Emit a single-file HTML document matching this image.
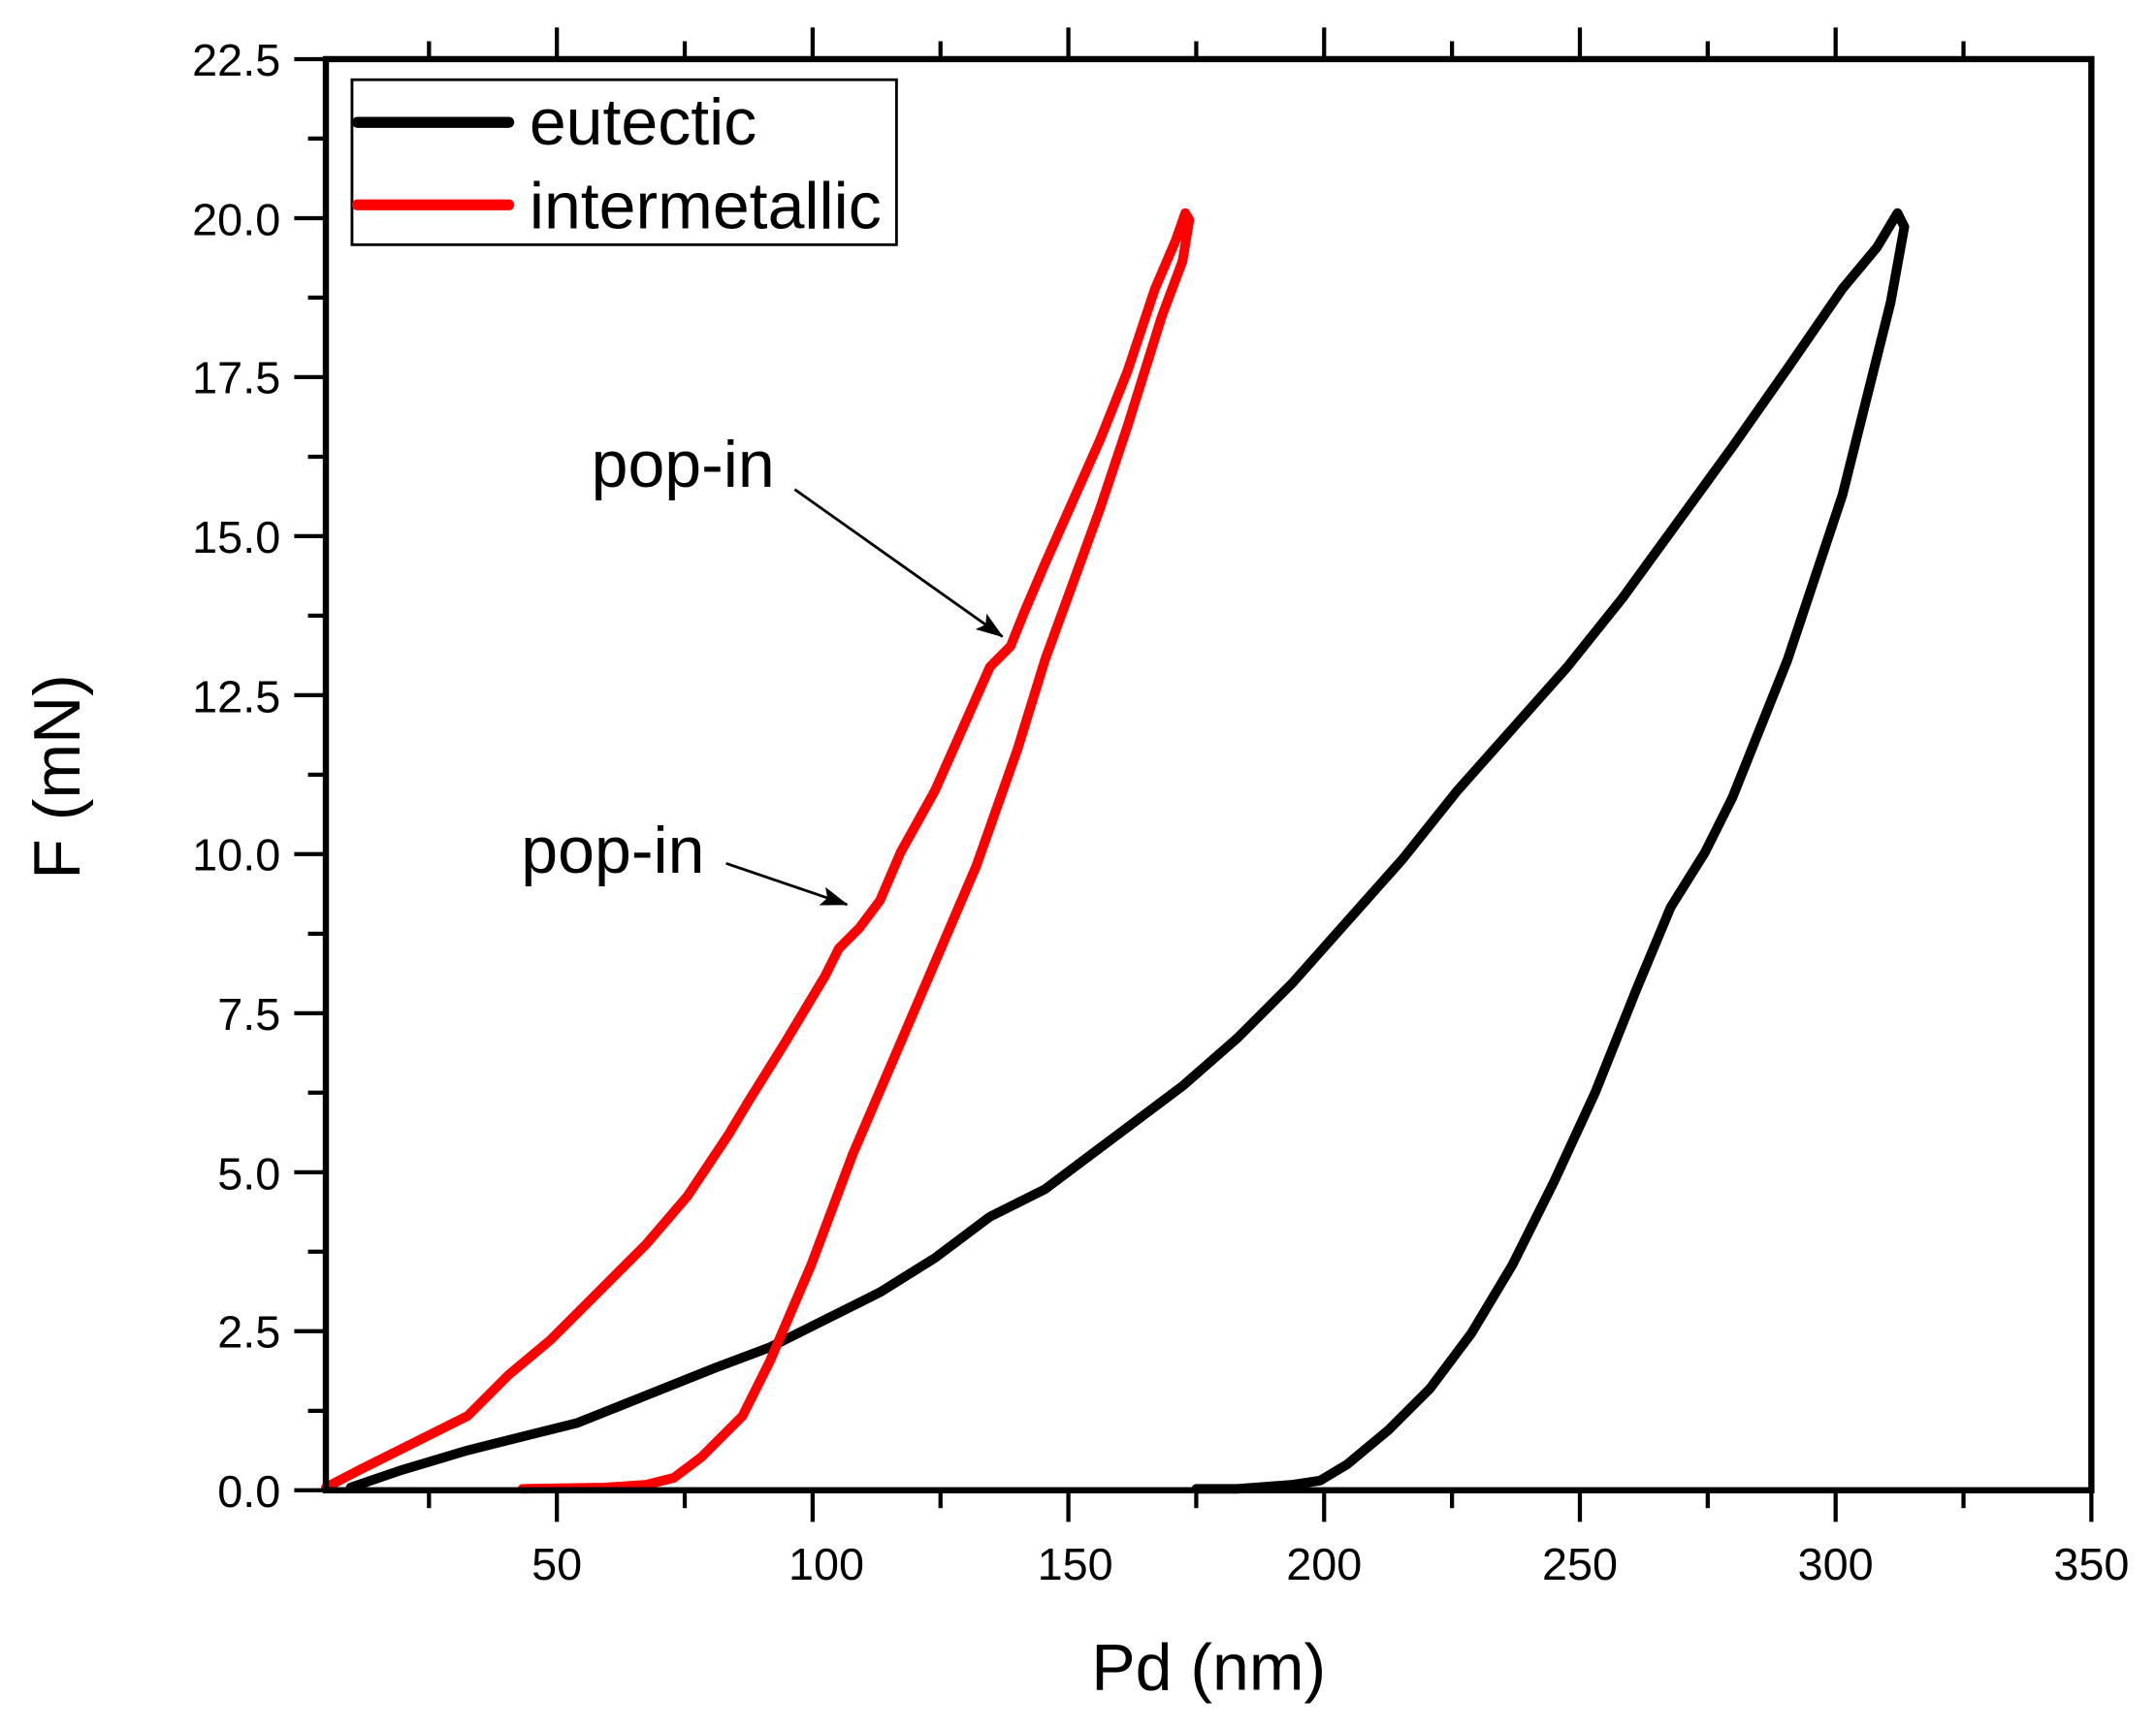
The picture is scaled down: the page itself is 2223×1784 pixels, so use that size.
<!DOCTYPE html>
<html><head><meta charset="utf-8"><style>
html,body{margin:0;padding:0;background:#fff;}
svg{display:block;}
text{font-family:"Liberation Sans",Arial,sans-serif;fill:#000;}
</style></head><body>
<svg width="2223" height="1784" viewBox="0 0 1568 1258.4" preserveAspectRatio="none" xmlns="http://www.w3.org/2000/svg">
<defs>
<marker id="ah" markerWidth="20" markerHeight="14" refX="19" refY="7" orient="auto" markerUnits="userSpaceOnUse" viewBox="0 0 20 14">
<path d="M0,0 L20,7 L0,14 L4,7 z" fill="#000"/>
</marker>
</defs>
<g fill="none" stroke-width="7" stroke-linejoin="round" stroke-linecap="round">
<polyline stroke="#000" points="255,1082 290,1070 340,1055 380,1045 420,1035 470,1015 520,995 560,980 600,960 640,940 680,915 720,885 760,865 800,835 860,790 900,755 940,715 980,670 1020,625 1060,575 1100,530 1140,485 1180,435 1220,380 1260,325 1300,268 1340,210 1365,180 1380,155 1385,165 1375,220 1360,280 1340,360 1320,420 1300,480 1280,530 1260,580 1240,620 1215,660 1190,720 1160,795 1130,860 1100,920 1070,970 1040,1010 1010,1040 980,1065 960,1077 940,1080 900,1083 870,1083"/>
<polyline stroke="#f00" points="237,1082 260,1070 300,1050 340,1030 370,1000 400,975 430,945 470,905 500,870 530,825 545,800 570,760 600,710 610,690 625,675 640,655 655,620 680,575 700,530 720,485 735,470 745,445 760,410 780,365 800,320 820,270 840,210 855,175 862,155 865,160 860,190 845,230 820,310 800,370 780,425 760,480 740,545 710,630 680,700 650,770 620,840 590,920 560,990 540,1030 510,1060 490,1075 470,1080 440,1082 380,1083"/>
</g>
<g stroke="#000" stroke-width="4.5" fill="none">
<rect x="237" y="43" width="1284" height="1041"/>
</g>
<g stroke="#000" stroke-width="3">
<line x1="405" y1="1084" x2="405" y2="1107"/><line x1="591" y1="1084" x2="591" y2="1107"/><line x1="777" y1="1084" x2="777" y2="1107"/><line x1="963" y1="1084" x2="963" y2="1107"/><line x1="1149" y1="1084" x2="1149" y2="1107"/><line x1="1335" y1="1084" x2="1335" y2="1107"/><line x1="1521" y1="1084" x2="1521" y2="1107"/>
<line x1="312" y1="1084" x2="312" y2="1097"/><line x1="498" y1="1084" x2="498" y2="1097"/><line x1="684" y1="1084" x2="684" y2="1097"/><line x1="870" y1="1084" x2="870" y2="1097"/><line x1="1056" y1="1084" x2="1056" y2="1097"/><line x1="1242" y1="1084" x2="1242" y2="1097"/><line x1="1428" y1="1084" x2="1428" y2="1097"/>
<line x1="405" y1="43" x2="405" y2="20"/><line x1="591" y1="43" x2="591" y2="20"/><line x1="777" y1="43" x2="777" y2="20"/><line x1="963" y1="43" x2="963" y2="20"/><line x1="1149" y1="43" x2="1149" y2="20"/><line x1="1335" y1="43" x2="1335" y2="20"/>
<line x1="312" y1="43" x2="312" y2="30"/><line x1="498" y1="43" x2="498" y2="30"/><line x1="684" y1="43" x2="684" y2="30"/><line x1="870" y1="43" x2="870" y2="30"/><line x1="1056" y1="43" x2="1056" y2="30"/><line x1="1242" y1="43" x2="1242" y2="30"/><line x1="1428" y1="43" x2="1428" y2="30"/>
<line x1="237" y1="1084" x2="214" y2="1084"/><line x1="237" y1="968.3" x2="214" y2="968.3"/><line x1="237" y1="852.7" x2="214" y2="852.7"/><line x1="237" y1="737" x2="214" y2="737"/><line x1="237" y1="621.3" x2="214" y2="621.3"/><line x1="237" y1="505.7" x2="214" y2="505.7"/><line x1="237" y1="390" x2="214" y2="390"/><line x1="237" y1="274.3" x2="214" y2="274.3"/><line x1="237" y1="158.7" x2="214" y2="158.7"/><line x1="237" y1="43" x2="214" y2="43"/>
<line x1="237" y1="1026.2" x2="224" y2="1026.2"/><line x1="237" y1="910.5" x2="224" y2="910.5"/><line x1="237" y1="794.8" x2="224" y2="794.8"/><line x1="237" y1="679.2" x2="224" y2="679.2"/><line x1="237" y1="563.5" x2="224" y2="563.5"/><line x1="237" y1="447.8" x2="224" y2="447.8"/><line x1="237" y1="332.2" x2="224" y2="332.2"/><line x1="237" y1="216.5" x2="224" y2="216.5"/><line x1="237" y1="100.8" x2="224" y2="100.8"/>
</g>
<g font-size="33" text-anchor="end">
<text x="204" y="1096">0.0</text><text x="204" y="980">2.5</text><text x="204" y="865">5.0</text><text x="204" y="749">7.5</text><text x="204" y="633">10.0</text><text x="204" y="518">12.5</text><text x="204" y="402">15.0</text><text x="204" y="286">17.5</text><text x="204" y="171">20.0</text><text x="204" y="55">22.5</text>
</g>
<g font-size="33" text-anchor="middle">
<text x="405" y="1149">50</text><text x="601" y="1149">100</text><text x="782" y="1149">150</text><text x="963" y="1149">200</text><text x="1149" y="1149">250</text><text x="1335" y="1149">300</text><text x="1521" y="1149">350</text>
</g>
<text x="879" y="1229" font-size="48" text-anchor="middle">Pd (nm)</text>
<text transform="translate(58,565) rotate(-90)" font-size="48" text-anchor="middle">F (mN)</text>
<rect x="256" y="58" width="396" height="120" fill="#fff" stroke="#000" stroke-width="2"/>
<line x1="260" y1="89" x2="370" y2="89" stroke="#000" stroke-width="8" stroke-linecap="round"/>
<line x1="260" y1="149" x2="370" y2="149" stroke="#f00" stroke-width="8" stroke-linecap="round"/>
<text x="385" y="105" font-size="48">eutectic</text>
<text x="385" y="166" font-size="48">intermetallic</text>
<text x="430" y="354" font-size="48">pop-in</text>
<line x1="578" y1="356" x2="729" y2="463" stroke="#000" stroke-width="2" marker-end="url(#ah)"/>
<text x="379" y="635" font-size="48">pop-in</text>
<line x1="528" y1="628" x2="616" y2="658" stroke="#000" stroke-width="2" marker-end="url(#ah)"/>
</svg>
</body></html>
